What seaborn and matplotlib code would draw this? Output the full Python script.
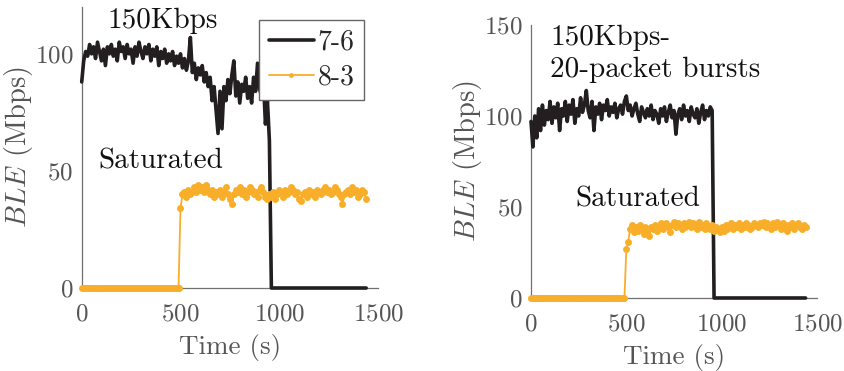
import numpy as np
import pandas as pd
import seaborn as sns
import matplotlib
matplotlib.use("Agg")
import matplotlib.pyplot as plt

# ---- data (10 s steps) ----
# 150Kbps run
left_76 = [88, 97, 101, 99, 104, 100, 103, 98, 105, 101,
           97, 102, 95, 103, 100, 104, 99, 102, 97, 105,
           101, 103, 98, 104, 100, 102, 96, 103, 99, 105,
           101, 98, 103, 100, 104, 97, 102, 99, 103, 95,
           101, 98, 102, 96, 100, 97, 101, 95, 99, 96,
           100, 94, 98, 93, 97, 107, 92, 96, 89, 94,
           91, 95, 88, 92, 86, 90, 80, 86, 76, 66,
           84, 68, 86, 80, 89, 83, 91, 97, 82, 88,
           79, 87, 84, 90, 81, 86, 79, 90, 84, 96,
           85, 82, 88, 70, 80, 63]
left_83 = [34, 40, 41, 39, 42, 40, 41, 43, 41, 44,
           42, 43, 41, 44, 42, 40, 42, 39, 41, 40,
           42, 39, 41, 43, 40, 38, 36, 40, 42, 41,
           43, 40, 42, 39, 41, 43, 42, 40, 41, 39,
           42, 43, 41, 39, 38, 40, 39, 41, 38, 40,
           42, 41, 39, 42, 40, 41, 43, 42, 40, 41,
           38, 37, 40, 41, 39, 42, 40, 41, 39, 42,
           41, 40, 42, 43, 41, 42, 40, 41, 43, 42,
           40, 39, 36, 40, 41, 42, 40, 43, 41, 42,
           39, 40, 42, 41, 38]

# 150Kbps-20-packet bursts run
right_76 = [97, 83, 100, 88, 104, 92, 106, 95, 103, 98,
            108, 96, 105, 99, 107, 92, 104, 100, 108, 97,
            106, 101, 109, 96, 104, 100, 110, 102, 106, 114,
            103, 99, 108, 92, 105, 101, 107, 98, 106, 103,
            109, 100, 105, 102, 107, 99, 104, 106, 101, 108,
            111, 103, 106, 100, 104, 107, 101, 97, 105, 102,
            99, 104, 100, 106, 98, 103, 101, 96, 104, 100,
            105, 97, 102, 106, 99, 103, 90, 101, 104, 98,
            106, 100, 103, 97, 105, 101, 99, 104, 96, 102,
            106, 98, 103, 100, 105, 103]
right_83 = [27, 31, 38, 40, 36, 39, 37, 40, 38, 35,
            39, 37, 34, 39, 38, 40, 37, 39, 41, 38,
            40, 41, 39, 36, 40, 42, 39, 41, 40, 38,
            41, 39, 40, 42, 39, 41, 40, 38, 42, 39,
            40, 38, 41, 39, 38, 40, 37, 39, 38, 36,
            39, 37, 40, 38, 39, 41, 38, 40, 39, 41,
            38, 40, 39, 41, 40, 38, 39, 41, 40, 39,
            41, 40, 42, 39, 41, 40, 38, 41, 39, 42,
            40, 38, 41, 39, 37, 40, 39, 41, 38, 40,
            41, 39, 38, 40, 39]

time = np.arange(0, 1450, 10)
off_76 = [0] * 49      # 7-6 stopped, 960..1440 s
idle_83 = [0] * 50     # 8-3 not started, 0..490 s

panels = [
    ("150Kbps", left_76, left_83, 120, [0, 50, 100], (128, 111), (83, 51)),
    ("150Kbps-\n20-packet bursts", right_76, right_83, 150, [0, 50, 100, 150], (100, 150), (231, 50)),
]

BLACK = "#231f20"
ORANGE = "#f9ae2a"
GREY = "#555555"

sns.set_style("white")
plt.rcParams["font.family"] = ["cmr10", "DejaVu Serif"]
plt.rcParams["mathtext.fontset"] = "cm"
plt.rcParams["axes.formatter.use_mathtext"] = True

fig = plt.figure(figsize=(8.45, 3.71), dpi=100)
boxes = [[0.0967, 0.2237, 0.3507, 0.7574], [0.6284, 0.1968, 0.3385, 0.7358]]

for (title, v76, v83, ytop, yt, tpos, spos), box in zip(panels, boxes):
    ax = fig.add_axes(box)
    d76 = pd.DataFrame({"t": time, "v": list(v76) + off_76})
    d83 = pd.DataFrame({"t": time, "v": idle_83 + list(v83)})
    sns.lineplot(data=d76, x="t", y="v", ax=ax, color=BLACK, lw=2.6, label="7-6",
                 clip_on=False, zorder=3)
    sns.lineplot(data=d83, x="t", y="v", ax=ax, color=ORANGE, lw=1.3, marker="o",
                 markersize=5, markeredgewidth=0, label="8-3", clip_on=False, zorder=4)
    ax.set_xlim(0, 1500)
    ax.set_ylim(0, ytop)
    ax.set_xticks([0, 500, 1000, 1500])
    ax.set_yticks(yt)
    ax.set_xlabel("Time (s)", fontsize=19.5, color=GREY, labelpad=6)
    ax.set_ylabel("$BLE$ (Mbps)", fontsize=20.5, color=GREY, labelpad=0)
    ax.tick_params(direction="in", length=3, width=0.8, colors=GREY, labelsize=18)
    ax.tick_params(axis="x", pad=11)
    ax.tick_params(axis="y", pad=6)
    for s in ["top", "right"]:
        ax.spines[s].set_visible(False)
    for s in ["left", "bottom"]:
        ax.spines[s].set_color("#707070")
        ax.spines[s].set_linewidth(0.9)
    va = "top" if "\n" in title else "baseline"
    ax.text(tpos[0], tpos[1], title, fontsize=21, va=va, linespacing=1.25, color="#111111")
    ax.text(spos[0], spos[1], "Saturated", fontsize=21, va="baseline", color="#111111")
    if ytop == 120:
        leg = ax.legend(loc="upper right", bbox_to_anchor=(0.954, 0.954), borderaxespad=0,
                        fontsize=20, frameon=True, fancybox=False, framealpha=1,
                        handlelength=1.6, handletextpad=0.15, borderpad=0.35,
                        labelspacing=0.3, markerscale=0.7)
        leg.get_frame().set_edgecolor("#666666")
        leg.get_frame().set_linewidth(1)
        leg.set_zorder(10)
    else:
        ax.get_legend().remove()

fig.savefig("out.png", dpi=100)
